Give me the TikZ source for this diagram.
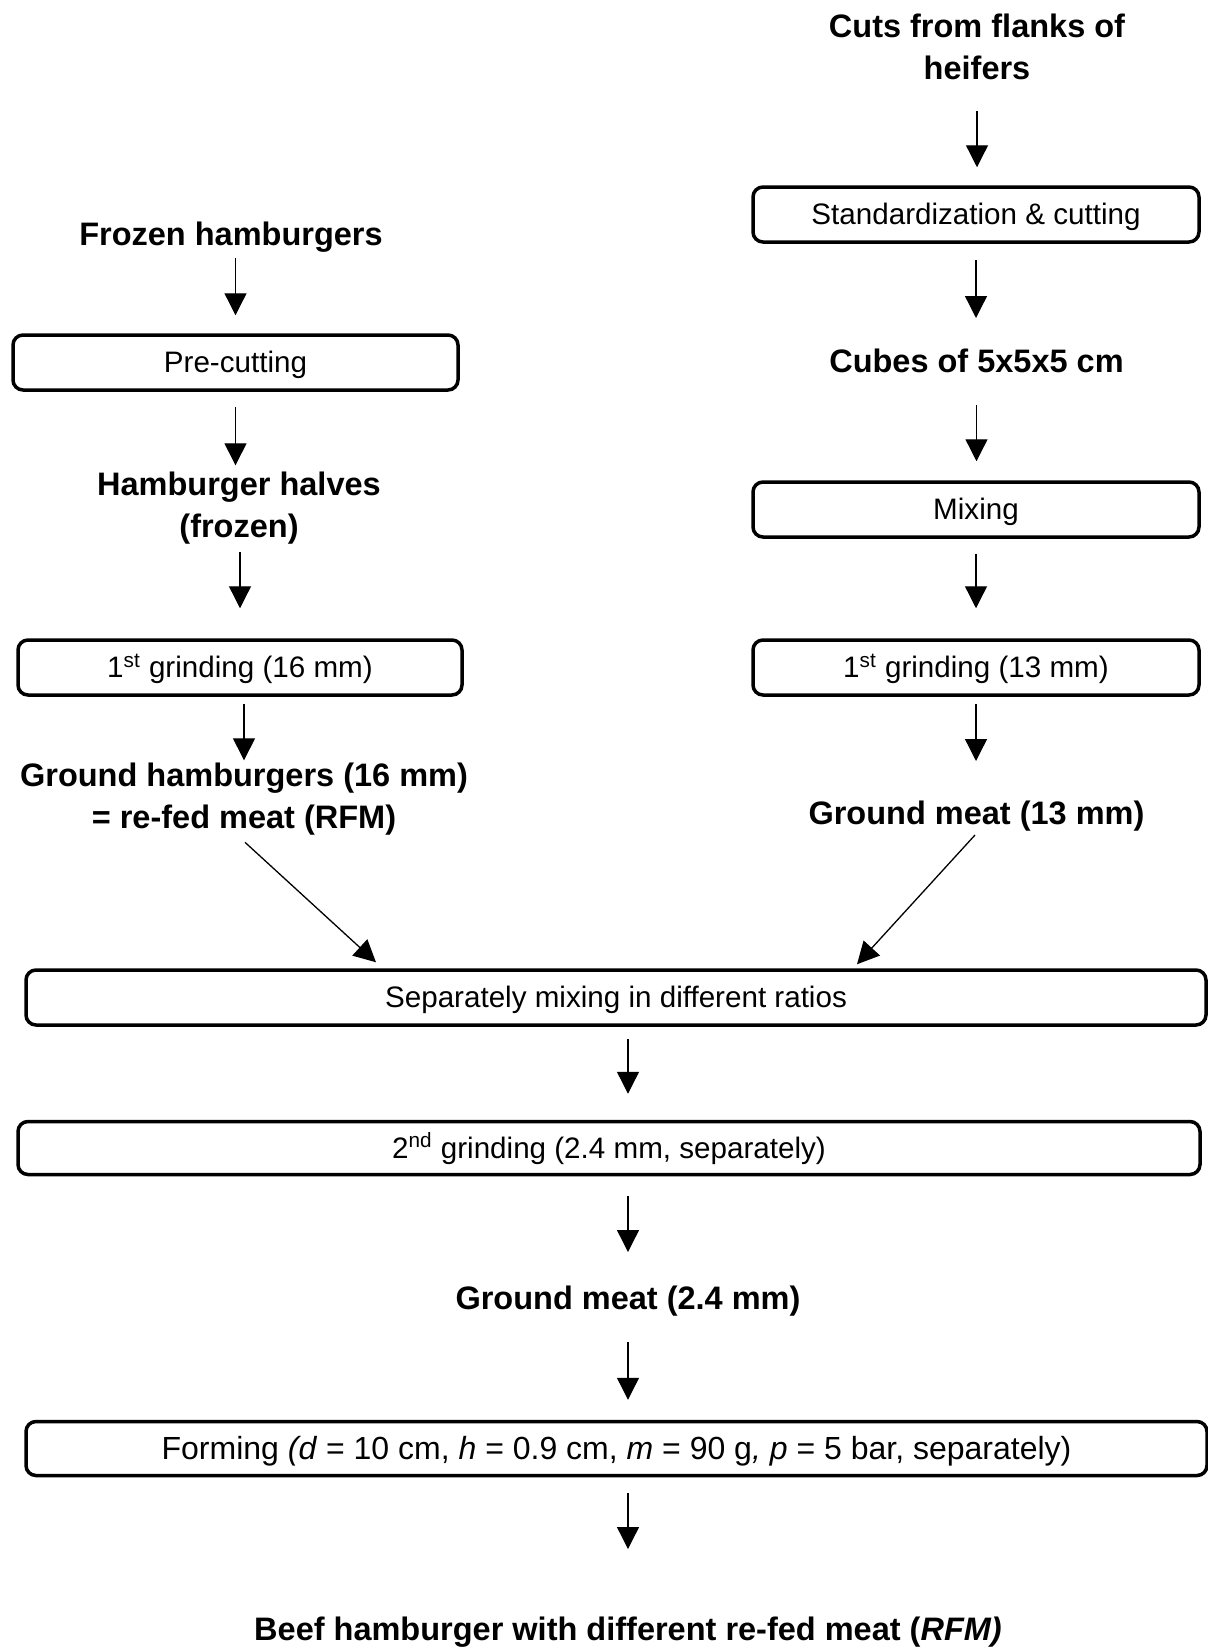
\documentclass[tikz,border=0pt]{standalone}
\usepackage{fontspec}
\setmainfont{Liberation Sans}
\usetikzlibrary{arrows.meta,calc}
\tikzset{
  bt/.style={font=\fontsize{16.25pt}{21pt}\selectfont\bfseries, inner sep=0pt},
  box/.style={draw, line width=1.75pt, rounded corners=5pt, minimum width=223pt,
    minimum height=27.5pt, inner sep=0pt, text height=10.6pt, text depth=0.4pt,
    font=\fontsize{14.8pt}{17pt}\selectfont},
  arr/.style={line width=0.65pt, -{Triangle[length=11pt,width=11pt]}}
}
\begin{document}
\begin{tikzpicture}[x=0.5pt,y=-0.5pt]
\useasboundingbox (0,0) rectangle (1208,1650);
% right column
\node[bt, anchor=north, align=center] (cuts) at (977,13.3) {Cuts from flanks of\\heifers};
\node[box] (std) at (976,214.5) {Standardization \& cutting};
\node[bt, anchor=base] (cubes) at (976.5,372) {Cubes of 5x5x5 cm};
\node[box] (mix) at (976,509.5) {Mixing};
\node[box] (g13) at (976,667.5) {1\textsuperscript{st} grinding (13 mm)};
\node[bt, anchor=base] (gm13) at (976.5,824) {Ground meat (13 mm)};
% left column
\node[bt, anchor=base] (frozen) at (231,245) {Frozen hamburgers};
\node[box, minimum width=222.5pt] (pc) at (235.5,362.5) {Pre-cutting};
\node[bt, anchor=north, align=center] (halves) at (239,471.3) {Hamburger halves\\(frozen)};
\node[box, minimum width=222pt] (g16) at (240,667.5) {1\textsuperscript{st} grinding (16 mm)};
\node[bt, anchor=north, align=center] (gh) at (244,762.3) {Ground hamburgers (16 mm)\\= re-fed meat (RFM)};
% common part
\node[box, minimum width=590pt] (sep) at (616,997.5) {Separately mixing in different ratios};
\node[box, minimum width=591pt, minimum height=26.5pt] (g2) at (609,1148) {2\textsuperscript{nd} grinding (2.4 mm, separately)};
\node[bt, anchor=base] (gm24) at (628,1309) {Ground meat (2.4 mm)};
\node[box, minimum width=590.5pt, minimum height=27pt, text height=11.4pt, font=\fontsize{16pt}{19pt}\selectfont] (form) at (616.5,1448.5) {Forming \textit{(d} = 10 cm, \textit{h} = 0.9 cm, \textit{m} = 90 g\textit{,} \textit{p} = 5 bar, separately)};
\node[bt, anchor=base] (beef) at (628,1640) {Beef hamburger with different re-fed meat (\textit{RFM)}};
% arrows right
\draw[arr] ($(cuts.south)+(0,31)$) -- ($(cuts.south |- std.north)+(0,-18)$);
\draw[arr] ($(std.south)+(0,16)$) -- ($(std.south |- cubes.base)+(0,-54)$);
\draw[arr] ($(cubes.base)+(0,33)$) -- ($(cubes.base |- mix.north)+(0,-19)$);
\draw[arr] ($(mix.south)+(0,15)$) -- ($(mix.south |- g13.north)+(0,-30)$);
\draw[arr] ($(g13.south)+(0,7)$) -- ($(g13.south |- gm13.base)+(0,-63)$);
% arrows left
\draw[arr] ($(frozen.base -| pc.north)+(0,13)$) -- ($(pc.north)+(0,-18)$);
\draw[arr] ($(pc.south)+(0,15)$) -- ($(pc.south |- halves.north)+(0,-6)$);
\draw[arr] ($(halves.north -| g16.north)+(0,80.7)$) -- ($(g16.north)+(0,-30)$);
\draw[arr] ($(g16.south -| gh.north)+(0,7)$) -- ($(gh.north)+(0,-2)$);
% diagonals
\draw[arr] ($(gh.north)+(1,80)$) -- ($(sep.north)+(-240,-6)$);
\draw[arr] ($(gm13.base)+(-1.5,11)$) -- ($(sep.north)+(241,-4)$);
% arrows centre
\draw[arr] ($(sep.south -| gm24.base)+(0,12)$) -- ($(g2.north -| gm24.base)+(0,-26)$);
\draw[arr] ($(g2.south -| gm24.base)+(0,20)$) -- ($(gm24.base)+(0,-57)$);
\draw[arr] ($(gm24.base)+(0,33)$) -- ($(gm24.base |- form.north)+(0,-20)$);
\draw[arr] ($(form.south -| beef.base)+(0,16)$) -- ($(beef.base)+(0,-91)$);
\end{tikzpicture}
\end{document}
